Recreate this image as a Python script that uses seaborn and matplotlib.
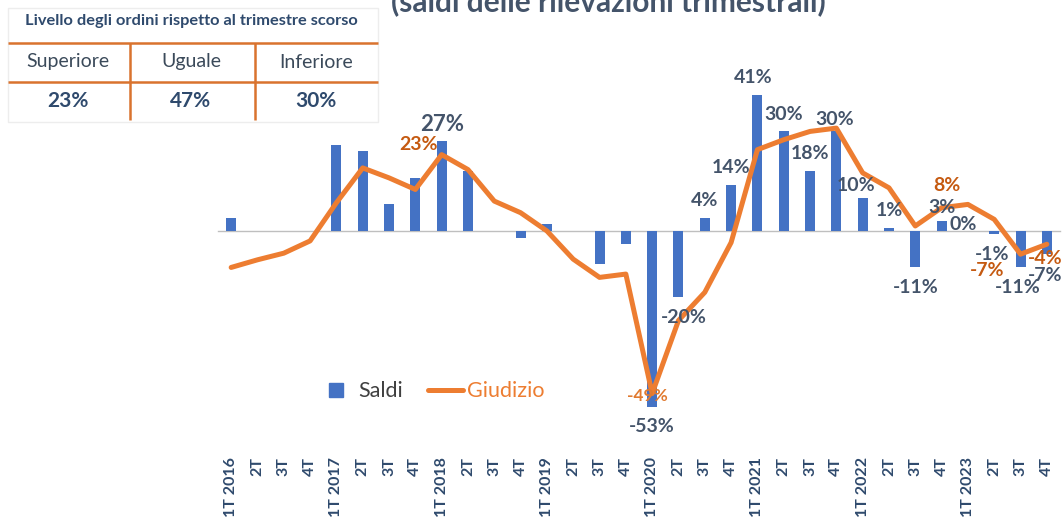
import numpy as np
import pandas as pd
import seaborn as sns
import matplotlib.pyplot as plt
from matplotlib.lines import Line2D

# data (percent balances)
quarter_labels = ['1T 2016', '2T', '3T', '4T',
                  '1T 2017', '2T', '3T', '4T',
                  '1T 2018', '2T', '3T', '4T',
                  '1T 2019', '2T', '3T', '4T',
                  '1T 2020', '2T', '3T', '4T',
                  '1T 2021', '2T', '3T', '4T',
                  '1T 2022', '2T', '3T', '4T',
                  '1T 2023', '2T', '3T', '4T']
saldi = [4, 0, 0, 0, 26, 24, 8, 16, 27, 18, 0, -2, 2, 0, -10, -4,
         -53, -20, 4, 14, 41, 30, 18, 30, 10, 1, -11, 3, 0, -1, -11, -7]
giudizio = [-11, -8.7, -6.7, -3, 8.5, 19, 16, 12.5, 23, 18.5, 9, 5.5, 0, -8.5, -14, -13,
            -49, -27, -18.5, -3.5, 24.5, 27.5, 30, 31, 17.5, 13, 1.5, 7, 8, 3.5, -7, -4]

bar_label_idx = [8, 16, 17, 18, 19, 20, 21, 22, 23, 24, 25, 26, 27, 28, 29, 30, 31]
line_label_idx = [8, 16, 28, 30, 31]

table_title = 'Livello degli ordini rispetto al trimestre scorso'
table_cols = ['Superiore', 'Uguale', 'Inferiore']
table_vals = [23, 47, 30]

title = '(saldi delle rilevazioni trimestrali)'

BLUE = '#4472C4'
ORANGE = '#ED7D31'
DARK_ORANGE = '#C55A11'
SLATE = '#44546A'
NAVY = '#2F4A6D'

sns.set_style('white')
plt.rcParams['font.family'] = ['Lato', 'DejaVu Sans']

df = pd.DataFrame({'q': np.arange(len(saldi)), 'saldi': saldi, 'giudizio': giudizio})

fig = plt.figure(figsize=(10.64, 5.24), dpi=100)
ax = fig.add_axes([218 / 1064, 1 - 430 / 524, 842 / 1064, 350 / 524])

sns.barplot(data=df, x='q', y='saldi', color=BLUE, saturation=1, width=0.38,
            linewidth=0, ax=ax, zorder=2)
sns.lineplot(data=df, x='q', y='giudizio', color=ORANGE, lw=3.6, ax=ax, zorder=3)

ax.set_xlim(-0.5, len(saldi) - 0.5)
ax.set_ylim(-60, 45.5)
for s in ['top', 'left', 'right']:
    ax.spines[s].set_visible(False)
ax.spines['bottom'].set_position(('data', 0))
ax.spines['bottom'].set_color('#BFBFBF')
ax.spines['bottom'].set_linewidth(1)
ax.spines['bottom'].set_zorder(1)

ax.set_xticks(np.arange(len(saldi)))
ax.set_xticklabels(quarter_labels, rotation=90, fontsize=11.5, fontweight='bold', color=NAVY)
ax.tick_params(axis='x', which='major', length=0, pad=163)
ax.set_xticks(np.arange(-0.5, len(saldi), 1), minor=True)
ax.tick_params(axis='x', which='minor', length=4.5, width=1, color='#BFBFBF', direction='out')
ax.set_yticks([])
ax.set_xlabel('')
ax.set_ylabel('')

# bar labels
bar_dx = {17: 3.5, 20: -3, 23: -1.5, 24: -4.5, 28: -3.5, 29: -1.5, 30: -2, 31: -1.5}
bar_dy = {23: 8.5, 24: 8.5, 27: 10, 28: 5, 31: -15.5}
for i in bar_label_idx:
    v = saldi[i]
    dy = bar_dy.get(i, 12.5 if v >= 0 else -14.5)
    ax.annotate(f'{v}%', (i, v), xytext=(bar_dx.get(i, 0), dy), textcoords='offset points',
                ha='center', va='center', fontsize=16 if i == 8 else 14,
                fontweight='bold', color=SLATE, zorder=5)

# line labels
line_off = {8: (-16.5, 7), 16: (-3.5, -1.5), 28: (-15, 13.5), 30: (-24, -11.5), 31: (-1.5, -10)}
for i in line_label_idx:
    v = giudizio[i]
    ax.annotate(f'{v:.0f}%', (i, v), xytext=line_off[i], textcoords='offset points',
                ha='center', va='center', fontsize=12.5 if i == 16 else 14,
                fontweight='bold', color=DARK_ORANGE if i != 16 else '#E07A30', zorder=5)

handles = [Line2D([], [], marker='s', ls='none', color=BLUE, markersize=10.5),
           Line2D([], [], color=ORANGE, lw=3.6)]
ax.legend(handles, ['Saldi', 'Giudizio'], loc='center', bbox_to_anchor=(0.254, 0.111),
          ncol=2, frameon=False, fontsize=15.5, labelcolor=['#404040', ORANGE],
          handlelength=1.6, columnspacing=1.2, handletextpad=0.2)

# overlay in pixel coordinates for title and the small table
lay = fig.add_axes([0, 0, 1, 1], zorder=10)
lay.set_xlim(0, 1064)
lay.set_ylim(524, 0)
lay.axis('off')
lay.patch.set_alpha(0)

lay.text(608, 11, title, ha='center', va='baseline', fontsize=21.5, fontweight='bold', color=SLATE)

lay.add_patch(plt.Rectangle((8, 8), 370, 114, facecolor='white', edgecolor='#EDEDED', lw=1))
lay.text(191, 21, table_title, ha='center', va='center', fontsize=11.8, fontweight='bold', color=NAVY)
for yy in [43, 82]:
    lay.plot([8, 378], [yy, yy], color='#D9732E', lw=1.8, solid_capstyle='butt')
for xx in [130, 255]:
    lay.plot([xx, xx], [43, 120], color='#D9732E', lw=1.8, solid_capstyle='butt')
col_x = [68, 191, 316]
for x, c, v in zip(col_x, table_cols, table_vals):
    lay.text(x, 62, c, ha='center', va='center', fontsize=14, color='#3B4A5A')
    lay.text(x, 101, f'{v}%', ha='center', va='center', fontsize=15, fontweight='bold', color=NAVY)

fig.savefig('out.png', dpi=100)
